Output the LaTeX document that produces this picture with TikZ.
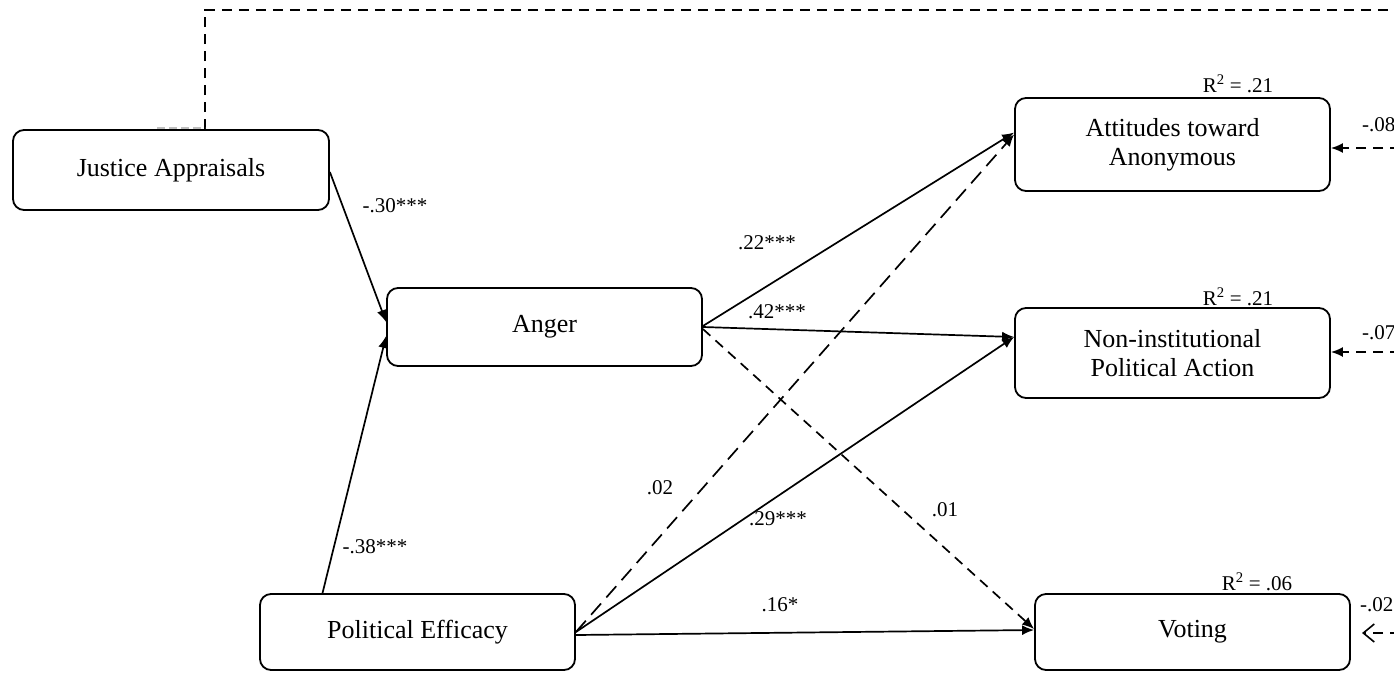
\documentclass[tikz,border=0pt]{standalone}
\usepackage{fontspec}
\setmainfont{Liberation Serif}
\usetikzlibrary{arrows.meta,calc}
\begin{document}
\begin{tikzpicture}[x=1pt,y=-1pt,
  box/.style={draw,line width=1.8pt,rounded corners=11pt,minimum width=315pt,align=center,
    font=\fontsize{26}{29}\selectfont,inner sep=0pt},
  conn/.style={line width=1.7pt,-{Latex[length=12pt,width=10pt]}},
  dconn/.style={conn,dash pattern=on 10pt off 7pt},
  ldconn/.style={conn,dash pattern=on 15pt off 8pt},
  lbl/.style={font=\fontsize{21}{24}\selectfont,inner sep=0pt}]
\useasboundingbox (0,0) rectangle (1394,672);

% nodes
\node[box,minimum width=316pt,minimum height=80pt] (ja) at (171,170) {Justice Appraisals};
\node[box,minimum height=78pt] (an) at (544.5,327) {Anger};
\node[box,minimum height=76pt] (pe) at (417.5,632) {Political Efficacy};
\node[box,minimum height=93pt] (at) at (1172.5,144.5) {Attitudes toward\\Anonymous};
\node[box,minimum height=90pt] (ni) at (1172.5,353) {Non-institutional\\Political Action};
\node[box,minimum height=76pt] (vo) at (1192.5,632) {Voting};

% top dashed connector
\coordinate (tc) at (205,10);
\coordinate (tr) at (1400,10);
\draw[line width=1.7pt,dash pattern=on 10pt off 7pt] ($(ja.north)+(34,0)$) -- (tc) -- (tr);
\draw[gray!50,line width=1.4pt,dash pattern=on 8pt off 4pt] ($(ja.north)+(-14,-1)$) -- ($(ja.north)+(34,-1)$);

% paths
\draw[conn] ($(ja.east)+(0,2)$) -- ($(an.west)+(0,-5)$);
\draw[conn] ($(pe.north)+(-95,0)$) -- ($(an.west)+(0,9)$);
\draw[conn] ($(an.east)+(0,-1)$) -- ($(at.west)+(0,-12)$);
\draw[conn] (an.east) -- ($(ni.west)+(0,-16)$);
\draw[dconn] ($(an.east)+(0,2)$) -- ($(vo.west)+(0,-3)$);
\draw[ldconn] (pe.east) -- ($(at.west)+(0,-10)$);
\draw[conn] (pe.east) -- ($(ni.west)+(0,-16)$);
\draw[conn] ($(pe.east)+(0,3)$) -- ($(vo.west)+(0,-2)$);

% error terms
\coordinate (ea) at (1400,148);
\coordinate (en) at (1400,352);
\coordinate (ev) at (1400,633);
\coordinate (evt) at (1362,633);
\draw[dconn] (ea) -- ($(at.east)+(0,3.5)$);
\draw[dconn] (en) -- ($(ni.east)+(0,-1)$);
\draw[line width=1.6pt,dash pattern=on 10pt off 7pt,-{Straight Barb[length=11pt,width=18pt]}] (ev) -- (evt);

% labels
\node[lbl] (l1) at (395,206) {-.30***};
\node[lbl] (l2) at (375,547) {-.38***};
\node[lbl] (l3) at (767,243) {.22***};
\node[lbl] (l4) at (777,312) {.42***};
\node[lbl] (l5) at (660,488) {.02};
\node[lbl] (l6) at (778,519) {.29***};
\node[lbl] (l7) at (945,510) {.01};
\node[lbl] (l8) at (780,605) {.16*};
\node[lbl] (r1) at (1238,84) {R\textsuperscript{2} = .21};
\node[lbl] (r2) at (1238,297) {R\textsuperscript{2} = .21};
\node[lbl] (r3) at (1257,582) {R\textsuperscript{2} = .06};
\node[lbl,anchor=west] (e1) at (1362,125) {-.08};
\node[lbl,anchor=west] (e2) at (1362,333) {-.07};
\node[lbl,anchor=west] (e3) at (1360,605) {-.02};
\end{tikzpicture}
\end{document}
